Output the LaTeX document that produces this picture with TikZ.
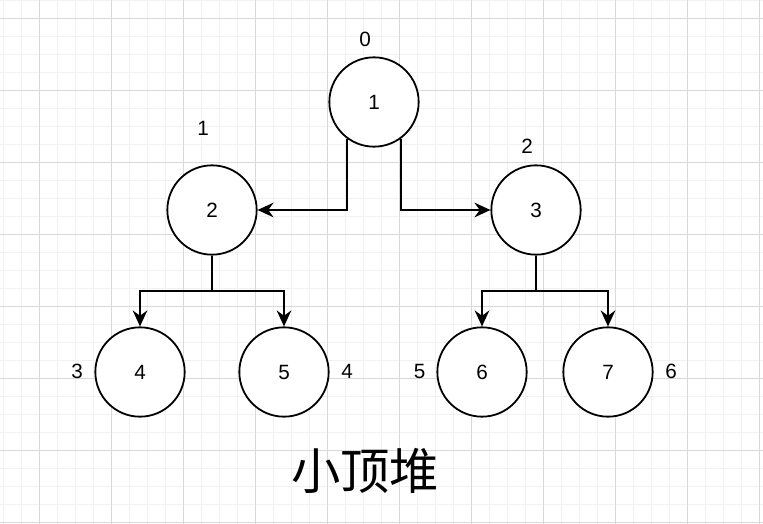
\documentclass[tikz,border=0pt]{standalone}
\usepackage{fontspec}
\setmainfont{Liberation Sans}
\newfontfamily\cjkfont{Noto Sans CJK SC}
\usepackage{tikz}
\usetikzlibrary{arrows.meta}

\definecolor{gridminor}{RGB}{241,241,241}
\definecolor{gridmajor}{RGB}{217,217,217}

\begin{document}
\begin{tikzpicture}[x=0.75pt,y=0.75pt,yscale=-1,xscale=1,
  heapnode/.style={circle,draw,fill=white,line width=1.35pt,minimum size=67pt,inner sep=0pt,font=\fontsize{15.5}{18}\selectfont},
  idxlabel/.style={inner sep=0pt,font=\fontsize{15.5}{18}\selectfont},
  link/.style={line width=1.35pt,-{Stealth[length=12pt,width=11pt,inset=4pt]}}]
\useasboundingbox (0,0) rectangle (763,524);

%Grid minor
\foreach \k in {0,...,42} \draw [color=gridminor, line width=0.75pt] (3.5+18*\k,0) -- (3.5+18*\k,524) ;
\foreach \k in {0,...,29} \draw [color=gridminor, line width=0.75pt] (0,0.5+18*\k) -- (763,0.5+18*\k) ;
%Grid major
\foreach \k in {0,...,10} \draw [color=gridmajor, line width=0.75pt] (39.5+72*\k,0) -- (39.5+72*\k,524) ;
\foreach \k in {0,...,7} \draw [color=gridmajor, line width=0.75pt] (0,18.5+72*\k) -- (763,18.5+72*\k) ;

%Shape: Circle [root]
\node [heapnode] (n1) at (374,102) {1};
%Shape: Circle [level 1]
\node [heapnode] (n2) at (212,210) {2};
\node [heapnode] (n3) at (536,210) {3};
%Shape: Circle [level 2]
\node [heapnode] (n4) at (140,372) {4};
\node [heapnode] (n5) at (284,372) {5};
\node [heapnode] (n6) at (482,372) {6};
\node [heapnode] (n7) at (608,372) {7};

%Straight Lines [root to children]
\draw [link] (n1.234) |- (n2) ;
\draw [link] (n1.306) |- (n3) ;
%Straight Lines [node 2 to children]
\draw [link] (n2.south) -- ++(0,35.5) -| (n4) ;
\draw [link] (n2.south) -- ++(0,35.5) -| (n5) ;
%Straight Lines [node 3 to children]
\draw [link] (n3.south) -- ++(0,35.5) -| (n6) ;
\draw [link] (n3.south) -- ++(0,35.5) -| (n7) ;

% Text Node
\node [idxlabel] (i0) at (365,39) {0};
% Text Node
\node [idxlabel] (i1) at (203,128.5) {1};
% Text Node
\node [idxlabel] (i2) at (527,146.5) {2};
% Text Node
\node [idxlabel] (i3) at (77,371.5) {3};
% Text Node
\node [idxlabel] (i4) at (347,371.5) {4};
% Text Node
\node [idxlabel] (i5) at (419.5,371.5) {5};
% Text Node
\node [idxlabel] (i6) at (671,371.5) {6};
% Text Node
\node [inner sep=0pt, font=\cjkfont\fontsize{37}{44}\selectfont] (title) at (365,470.5) {小顶堆};

\end{tikzpicture}
\end{document}
